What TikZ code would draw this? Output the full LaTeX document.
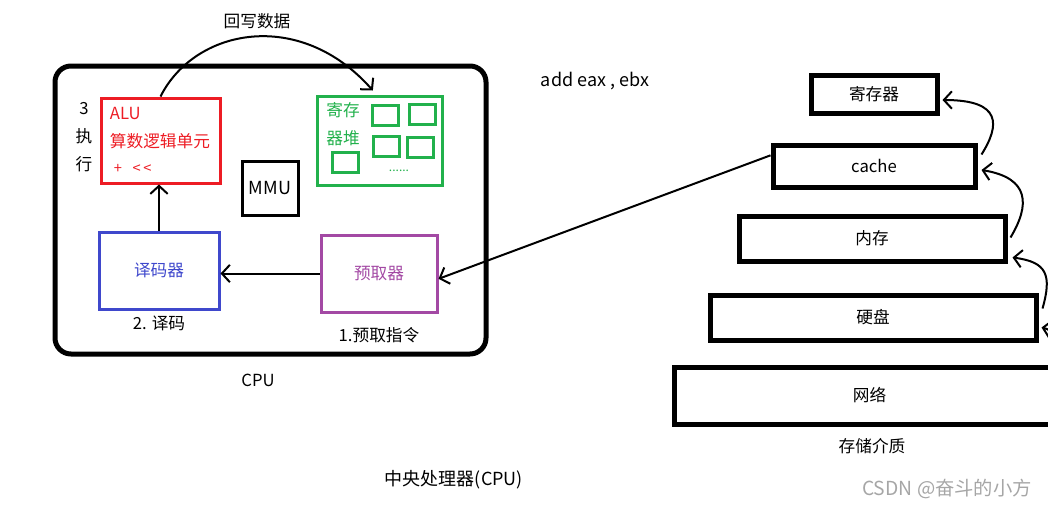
\documentclass[tikz,border=0pt]{standalone}
\usepackage{fontspec}
\setmainfont{Noto Sans CJK SC}
\usepackage{xcolor}
\usepackage{tikz}
\usetikzlibrary{positioning, arrows.meta, calc}

\definecolor{alured}{RGB}{237,28,36}
\definecolor{reggreen}{RGB}{34,177,76}
\definecolor{decblue}{RGB}{63,72,204}
\definecolor{prepurple}{RGB}{163,73,164}

\begin{document}
\begin{tikzpicture}[x=0.75pt, y=-0.75pt,
  every node/.style={font=\fontsize{12.5}{15}\selectfont, inner sep=2pt},
  unit/.style={draw=#1, line width=2.25pt, text=#1},
  cell/.style={draw=reggreen, line width=2.25pt, minimum width=19.5pt, minimum height=15pt},
  layer/.style={draw, line width=3.75pt},
  arr/.style={-{Straight Barb[length=6pt,width=13pt]}, line width=1.5pt}]
  \useasboundingbox (0,0) rectangle (1048,508);
  \clip (0,0) rectangle (1048,508);

  % cpu
  \node[draw, line width=3.75pt, rounded corners=12pt, minimum width=323.25pt, minimum height=216pt] (cpu) at (270.5,210) {};
  \node (cpulabel) at (258,380) {CPU};

  \node[unit=alured, minimum width=89.25pt, minimum height=63.75pt] (alu) at (160.5,140.5) {};
  \node[text=alured, anchor=west] (aluname) at (107,113) {ALU};
  \node[text=alured, anchor=west] (alucn) at (107,141) {算数逻辑单元};
  \node[text=alured, anchor=west, font=\fontsize{11}{13}\selectfont] (aluops) at (111,169) {+\hspace{8pt}<\,<};
  \node[align=center, font=\fontsize{12.5}{21}\selectfont] (exec) at (84,137) {3\\执\\行};

  \node[unit=reggreen, minimum width=93.75pt, minimum height=66.75pt] (regs) at (379.5,140.5) {};
  \node[text=reggreen, align=center, font=\fontsize{12.5}{21}\selectfont] (regsname) at (343,124) {寄存\\器堆};
  \node[cell] (c1) at (385,115.5) {};
  \node[cell] (c2) at (422,114.5) {};
  \node[cell] (c3) at (386,146.5) {};
  \node[cell] (c4) at (420.5,147) {};
  \node[cell] (c5) at (345,162.5) {};
  \node[text=reggreen, font=\fontsize{9}{11}\selectfont] (more) at (399,171) {......};

  \node[draw, line width=2.25pt, minimum width=42pt, minimum height=40.5pt, font=\fontsize{13.5}{15}\selectfont] (mmu) at (270,188) {MMU};

  \node[unit=decblue, minimum width=90pt, minimum height=57.75pt] (dec) at (159,270.5) {译码器};
  \node[below=2pt of dec] (declabel) {2. 译码};

  \node[unit=prepurple, minimum width=87pt, minimum height=57.75pt] (pre) at (379,273.5) {预取器};
  \node[below=8pt of pre] (prelabel) {1.预取指令};

  \node (wb) at (257,21) {回写数据};
  \node[font=\fontsize{13.5}{15}\selectfont] (asm) at (595,81) {add eax , ebx};

  % storage
  \node[layer, minimum width=94.5pt, minimum height=28.5pt] (reg) at (874,94) {寄存器};
  \node[layer, minimum width=151.5pt, minimum height=31.5pt] (cache) at (874,166) {cache};
  \node[layer, minimum width=199.5pt, minimum height=33.75pt] (mem) at (872,238.5) {内存};
  \node[layer, minimum width=244.5pt, minimum height=33.75pt] (disk) at (873,317.5) {硬盘};
  \node[layer, minimum width=293.25pt, minimum height=42.75pt] (net) at (869.5,395.5) {网络};
  \node[below=7pt of net.south -| mem] (storlabel) {存储介质};

  \node[font=\fontsize{13.5}{16}\selectfont] (title) at (454,480) {中央处理器(CPU)};
  \node[text=black!35, font=\fontsize{14.5}{16}\selectfont] (mark) at (947,489) {CSDN @奋斗的小方};

  \coordinate (netout) at (1062,372);

  \draw[arr] (alu.north) .. controls (195,28) and (300,8) .. ([xshift=-5pt,yshift=3pt]regs.north);
  \draw[arr] (pre.west) -- (pre.west -| dec.east);
  \draw[arr] (dec.north) -- (dec.north |- alu.south);
  \draw[arr] ([yshift=8pt]cache.west) -- ([yshift=-4pt]pre.east);
  \draw[arr] ($(cache.north east)+(4,12)$) .. controls (1000,125) and (1002,100) .. ($(reg.east)+(3,6)$);
  \draw[arr] ($(mem.north east)+(3,24)$) .. controls (1030,205) and (1030,178) .. ($(cache.east)+(4,4)$);
  \draw[arr] ($(disk.north east)+(4,16)$) .. controls (1052,275) and (1047,262) .. ($(mem.south east)+(5,-6)$);
  \draw[arr] (netout) .. controls (1058,345) and (1055,330) .. ($(disk.east)+(3,10)$);
\end{tikzpicture}
\end{document}
